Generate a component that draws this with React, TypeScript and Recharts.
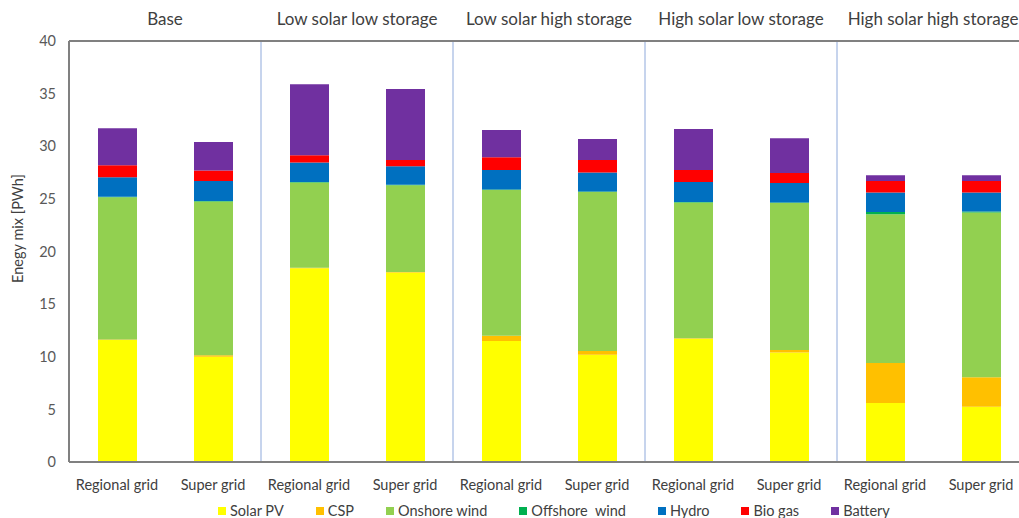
import React from 'react';
import { BarChart, Bar, XAxis, YAxis, ReferenceLine } from 'recharts';

// scenario groups (two grid setups each)
const scenarios = ['Base', 'Low solar low storage', 'Low solar high storage', 'High solar low storage', 'High solar high storage'];
const grids = ['Regional grid', 'Super grid'];

// energy mix in PWh, one value per bar (scenario x grid)
const solarPV = [11.6, 10.0, 18.4, 18.0, 11.5, 10.2, 11.7, 10.4, 5.6, 5.25];
const csp = [0.05, 0.15, 0.05, 0.05, 0.5, 0.35, 0.05, 0.25, 3.8, 2.8];
const onshoreWind = [13.5, 14.6, 8.1, 8.25, 13.85, 15.1, 12.9, 13.95, 14.15, 15.65];
const offshoreWind = [0.05, 0.05, 0.05, 0.05, 0.05, 0.05, 0.05, 0.05, 0.2, 0.1];
const hydro = [1.85, 1.9, 1.85, 1.75, 1.85, 1.8, 1.9, 1.85, 1.85, 1.8];
const bioGas = [1.15, 1.0, 0.7, 0.6, 1.2, 1.2, 1.15, 0.95, 1.1, 1.1];
const battery = [3.5, 2.7, 6.75, 6.75, 2.6, 2.0, 3.9, 3.3, 0.55, 0.55];

const yTicks = [0, 5, 10, 15, 20, 25, 30, 35, 40];

const series = [
  { key: 'solar', name: 'Solar PV', color: '#FFFF00', values: solarPV },
  { key: 'csp', name: 'CSP', color: '#FFC000', values: csp },
  { key: 'onshore', name: 'Onshore wind', color: '#92D050', values: onshoreWind },
  { key: 'offshore', name: 'Offshore  wind', color: '#00B050', values: offshoreWind },
  { key: 'hydro', name: 'Hydro', color: '#0070C0', values: hydro },
  { key: 'biogas', name: 'Bio gas', color: '#FF0000', values: bioGas },
  { key: 'battery', name: 'Battery', color: '#7030A0', values: battery },
];

const data = solarPV.map((_, i) => {
  const row: Record<string, any> = {
    id: `bar${i}`,
    grid: grids[i % 2],
    scenario: scenarios[Math.floor(i / 2)],
  };
  series.forEach(s => { row[s.key] = s.values[i]; });
  return row;
});

// separator after each scenario's second bar (except the last one)
const separatorIds = data.filter((_, i) => i % 2 === 1 && i < data.length - 1).map(d => d.id);

const CHART_W = 1029;
const CHART_H = 518;
const LEFT = 69;
const HALF_BAND = (CHART_W - LEFT) / data.length / 2;
const FONT = 'Lato, "Open Sans", sans-serif';

const GroupTick = (props: any) => {
  const { x, y, payload, index } = props;
  if (index % 2 !== 0) return null;
  return (
    <text x={x + HALF_BAND} y={y} dy={-8} textAnchor="middle" fill="#404040" fontSize={17} fontFamily={FONT}>
      {payload.value}
    </text>
  );
};

const YLabel = (props: any) => {
  const { viewBox } = props;
  const cx = viewBox.x + 23;
  const cy = viewBox.y + viewBox.height / 2 - 23;
  return (
    <text x={cx} y={cy} transform={`rotate(-90, ${cx}, ${cy})`} textAnchor="middle" fill="#404040" fontSize={14.5} fontFamily={FONT}>
      Enegy mix [PWh]
    </text>
  );
};

export default function App() {
  return (
    <div style={{ position: 'absolute', left: 0, top: 0, width: 1019, height: CHART_H, overflow: 'hidden', background: '#fff' }}>
      <BarChart width={CHART_W} height={CHART_H} data={data} margin={{ top: 0, right: 0, bottom: 16, left: 0 }} barSize={39}>
        <XAxis
          xAxisId="top"
          orientation="top"
          dataKey="scenario"
          height={41}
          interval={0}
          tickLine={false}
          axisLine={{ stroke: '#808080', strokeWidth: 2 }}
          tick={<GroupTick />}
        />
        <XAxis
          dataKey="grid"
          height={40}
          interval={0}
          tickLine={false}
          tickSize={0}
          tickMargin={18}
          axisLine={{ stroke: '#808080', strokeWidth: 2 }}
          tick={{ fill: '#404040', fontSize: 14.5, fontFamily: FONT }}
        />
        <XAxis xAxisId="sep" dataKey="id" hide />
        <YAxis
          width={LEFT}
          domain={[0, 40]}
          ticks={yTicks}
          tickLine={false}
          tickSize={0}
          tickMargin={13}
          axisLine={{ stroke: '#808080', strokeWidth: 2 }}
          tick={{ fill: '#595959', fontSize: 14.5, fontFamily: FONT }}
          label={<YLabel />}
        />
        {separatorIds.map(id => (
          <ReferenceLine key={id} xAxisId="sep" x={id} position="end" stroke="#8EA9DB" strokeWidth={1} />
        ))}
        {series.map(s => (
          <Bar key={s.key} dataKey={s.key} name={s.name} stackId="mix" fill={s.color} isAnimationActive={false} />
        ))}
      </BarChart>
      <div style={{ position: 'absolute', top: 502, left: 218, display: 'flex', gap: 32, fontFamily: FONT, fontSize: 14.5, color: '#404040', lineHeight: '18px', whiteSpace: 'pre' }}>
        {series.map(s => (
          <div key={s.key} style={{ display: 'flex', alignItems: 'center' }}>
            <span style={{ display: 'inline-block', width: 8, height: 8, background: s.color, marginRight: 4 }} />
            {s.name}
          </div>
        ))}
      </div>
    </div>
  );
}
